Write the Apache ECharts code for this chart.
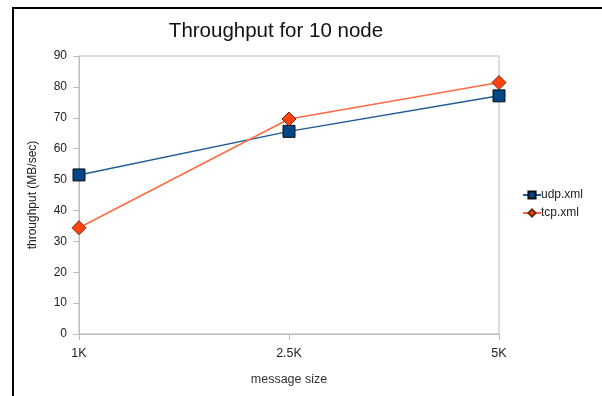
<!DOCTYPE html>
<html><head><meta charset="utf-8">
<script src="https://cdn.jsdelivr.net/npm/echarts@6/dist/echarts.min.js"></script>
<style>html,body{margin:0;padding:0;background:#fff;}#c{width:602px;height:396px;position:relative;}
#frame{position:absolute;left:12px;top:7px;width:600px;height:400px;border-left:2px solid #000;border-top:2px solid #000;pointer-events:none;}</style>
</head><body><div id="c"></div><div id="frame"></div>
<script>
const categories = ['1K', '2.5K', '5K'];
const udpValues = [51.5, 65.6, 77.1];
const tcpValues = [34.4, 69.6, 81.4];
const yTicks = {min: 0, max: 90, interval: 10};

const chart = echarts.init(document.getElementById('c'));
chart.setOption({
  animation: false,
  backgroundColor: '#fff',
  title: {text: 'Throughput for 10 node', left: 271, textAlign: 'center', top: 16,
    textStyle: {fontFamily: 'Liberation Sans', fontSize: 20.5, fontWeight: 'normal', color: '#111'}},
  grid: {left: 79, right: 103, top: 56, bottom: 62, show: true, borderColor: '#bbb', borderWidth: 1, backgroundColor: 'transparent'},
  legend: {orient: 'vertical', left: 517, top: 184, itemGap: 6, itemWidth: 18, itemHeight: 9,
    textStyle: {fontFamily: 'Liberation Sans', fontSize: 12, color: '#222', padding: [0,0,0,-5]},
    data: ['udp.xml', 'tcp.xml']},
  xAxis: {type: 'category', data: categories, boundaryGap: false,
    name: 'message size', nameLocation: 'middle', nameGap: 39,
    nameTextStyle: {fontFamily: 'Liberation Sans', fontSize: 12.5, color: '#333'},
    axisLine: {lineStyle: {color: '#bbb'}}, axisTick: {show: true, alignWithLabel: true, length: 6, lineStyle: {color: '#bbb'}},
    axisLabel: {fontFamily: 'Liberation Sans', fontSize: 12.5, color: '#222', margin: 13},
    splitLine: {show: false}},
  yAxis: {type: 'value', min: yTicks.min, max: yTicks.max, interval: yTicks.interval,
    name: 'throughput (MB/sec)', nameLocation: 'middle', nameGap: 40,
    nameTextStyle: {fontFamily: 'Liberation Sans', fontSize: 12, color: '#222'},
    axisLine: {show: true, lineStyle: {color: '#bbb'}}, axisTick: {show: true, length: 6, lineStyle: {color: '#bbb'}},
    axisLabel: {fontFamily: 'Liberation Sans', fontSize: 12, color: '#222', margin: 12},
    splitLine: {show: false}},
  series: [
    {name: 'udp.xml', type: 'line', data: udpValues, symbol: 'rect', symbolSize: 12,
      lineStyle: {color: '#1f5a96', width: 1.5}, itemStyle: {color: '#004586', borderColor: '#111', borderWidth: 1}},
    {name: 'tcp.xml', type: 'line', data: tcpValues, symbol: 'diamond', symbolSize: 14,
      lineStyle: {color: '#ff6a45', width: 1.5}, itemStyle: {color: '#ff420e', borderColor: '#6a2a10', borderWidth: 1}}
  ]
});
</script></body></html>
